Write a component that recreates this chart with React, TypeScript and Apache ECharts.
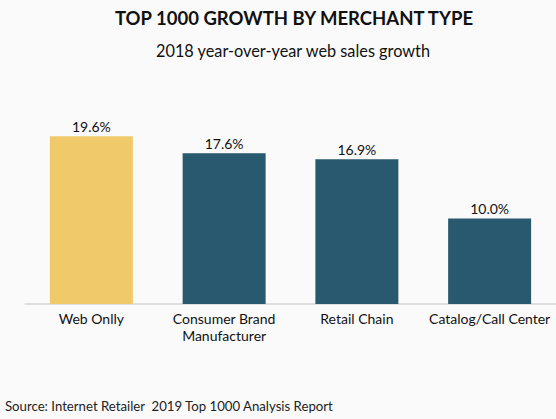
import { useEffect, useRef } from 'react';
import * as echarts from 'echarts';

const categories = ['Web Onlly', 'Consumer Brand\nManufacturer', 'Retail Chain', 'Catalog/Call Center'];
const growth = [19.6, 17.6, 16.9, 10.0];
const barColors = ['#f0ca6a', '#28596e', '#28596e', '#28596e'];

const titleText = 'TOP 1000 GROWTH BY MERCHANT TYPE';
const subtitleText = '2018 year-over-year web sales growth';
const sourceText = 'Source: Internet Retailer  2019 Top 1000 Analysis Report';

const FONT = 'Lato, "Noto Sans", sans-serif';

export default function App() {
  const chartRef = useRef<HTMLDivElement | null>(null);

  useEffect(() => {
    if (!chartRef.current) return;
    const chart = echarts.init(chartRef.current, null, { renderer: 'svg' });

    chart.setOption({
      animation: false,
      backgroundColor: '#fafafa',
      grid: { left: 25, width: 536, top: 90, height: 214 },
      xAxis: {
        type: 'category',
        data: categories,
        axisLine: { lineStyle: { color: '#d6d6d6', width: 1.5 } },
        axisTick: { show: false },
        axisLabel: {
          color: '#111',
          fontSize: 14,
          fontFamily: FONT,
          lineHeight: 17,
          margin: 6,
          interval: 0,
        },
      },
      yAxis: { type: 'value', min: 0, max: 25, show: false, splitLine: { show: false } },
      series: [
        {
          type: 'bar',
          barWidth: 83,
          data: growth.map((value, i) => ({ value, itemStyle: { color: barColors[i] } })),
          label: {
            show: true,
            position: 'top',
            distance: 3,
            color: '#111',
            fontSize: 14,
            fontFamily: FONT,
            formatter: (p: any) => `${p.value.toFixed(1)}%`,
          },
        },
      ],
      graphic: [
        {
          type: 'text',
          x: 294,
          y: 18,
          style: {
            text: titleText,
            fill: '#111',
            fontSize: 18.5,
            fontWeight: 'bold',
            fontFamily: FONT,
            align: 'center',
            verticalAlign: 'middle',
          },
        },
        {
          type: 'text',
          x: 293,
          y: 50,
          style: {
            text: subtitleText,
            fill: '#111',
            fontSize: 16.3,
            fontFamily: FONT,
            align: 'center',
            verticalAlign: 'middle',
          },
        },
        {
          type: 'text',
          x: 5,
          y: 406,
          style: {
            text: sourceText,
            fill: '#222',
            fontSize: 13.2,
            fontFamily: FONT,
            align: 'left',
            verticalAlign: 'middle',
          },
        },
      ],
    });

    return () => {
      chart.dispose();
    };
  }, []);

  return (
    <div style={{ position: 'absolute', left: 0, top: 0, width: 556, height: 419 }}>
      <div ref={chartRef} style={{ width: 556, height: 419 }} />
    </div>
  );
}
